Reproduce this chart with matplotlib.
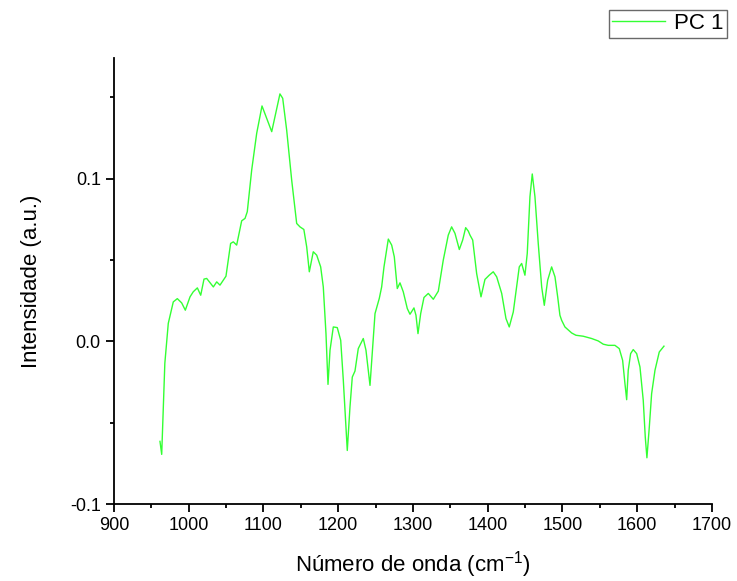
import matplotlib
matplotlib.use("Agg")
import matplotlib.pyplot as plt
from matplotlib.ticker import MultipleLocator, FormatStrFormatter

plt.rcParams['font.family'] = ['Liberation Sans', 'DejaVu Sans']
plt.rcParams['mathtext.fontset'] = 'custom'
plt.rcParams['mathtext.rm'] = 'Liberation Sans'
plt.rcParams['mathtext.it'] = 'Liberation Sans'
plt.rcParams['axes.unicode_minus'] = False

# numero de onda (cm-1) e intensidade da PC 1
numero_onda = [961.5, 963.8, 968.0, 972.6, 979.3, 984.7, 990.5, 995.4, 1001.7, 1006.0,
               1011.5, 1016.0, 1020.4, 1024.0, 1032.9, 1037.4, 1041.8, 1049.8, 1056.0, 1059.6,
               1064.1, 1070.8, 1075.3, 1078.3, 1084.2, 1090.9, 1098.0, 1104.3, 1111.0, 1115.4,
               1122.0, 1125.7, 1131.0, 1137.7, 1144.4, 1148.8, 1154.0, 1157.8, 1161.3, 1166.6,
               1171.2, 1176.5, 1180.0, 1183.6, 1186.3, 1189.0, 1193.4, 1198.7, 1203.3, 1206.8,
               1212.1, 1215.7, 1218.8, 1222.4, 1226.8, 1233.5, 1237.1, 1242.5, 1246.1, 1249.2,
               1254.9, 1258.1, 1261.2, 1267.0, 1271.5, 1275.0, 1279.0, 1282.6, 1287.0, 1292.4,
               1296.0, 1301.3, 1304.0, 1306.7, 1310.3, 1314.7, 1320.5, 1327.2, 1333.9, 1340.5,
               1347.2, 1351.7, 1356.2, 1362.0, 1366.5, 1370.5, 1374.0, 1376.3, 1379.9, 1385.2,
               1391.0, 1396.3, 1402.0, 1407.4, 1412.0, 1418.7, 1424.4, 1428.8, 1434.2, 1438.7,
               1442.2, 1445.4, 1449.8, 1452.9, 1456.5, 1459.6, 1463.2, 1467.6, 1472.2, 1475.7,
               1480.2, 1485.5, 1490.0, 1493.6, 1496.6, 1498.9, 1503.3, 1512.3, 1518.0, 1527.8,
               1539.0, 1547.9, 1554.6, 1561.3, 1570.2, 1576.0, 1580.5, 1583.6, 1585.9, 1588.0,
               1591.2, 1594.7, 1599.3, 1603.7, 1608.1, 1610.8, 1613.0, 1616.2, 1619.3, 1623.8,
               1629.5, 1635.8]
pc1 = [-0.0615, -0.0695, -0.0135, 0.0110, 0.0242, 0.0262, 0.0236, 0.0191, 0.0273, 0.0304,
       0.0328, 0.0283, 0.0382, 0.0386, 0.0334, 0.0365, 0.0345, 0.0400, 0.0601, 0.0611,
       0.0591, 0.0740, 0.0755, 0.0796, 0.1052, 0.1278, 0.1446, 0.1370, 0.1288, 0.1380,
       0.1520, 0.1493, 0.1298, 0.0991, 0.0724, 0.0703, 0.0687, 0.0580, 0.0427, 0.0550,
       0.0529, 0.0457, 0.0334, 0.0047, -0.0265, -0.0055, 0.0088, 0.0084, 0.0006, -0.0240,
       -0.0671, -0.0404, -0.0220, -0.0183, -0.0045, 0.0017, -0.0055, -0.0271, -0.0035, 0.0170,
       0.0263, 0.0334, 0.0457, 0.0628, 0.0591, 0.0519, 0.0324, 0.0359, 0.0304, 0.0201,
       0.0166, 0.0205, 0.0160, 0.0047, 0.0170, 0.0269, 0.0294, 0.0258, 0.0308, 0.0498,
       0.0652, 0.0703, 0.0663, 0.0564, 0.0622, 0.0698, 0.0677, 0.0652, 0.0622, 0.0416,
       0.0273, 0.0380, 0.0406, 0.0427, 0.0396, 0.0294, 0.0140, 0.0088, 0.0180, 0.0334,
       0.0457, 0.0478, 0.0406, 0.0540, 0.0888, 0.1028, 0.0888, 0.0601, 0.0334, 0.0221,
       0.0375, 0.0457, 0.0396, 0.0273, 0.0160, 0.0129, 0.0088, 0.0051, 0.0037, 0.0031,
       0.0017, 0.0002, -0.0018, -0.0025, -0.0025, -0.0045, -0.0117, -0.0260, -0.0359, -0.0178,
       -0.0076, -0.0051, -0.0076, -0.0158, -0.0363, -0.0589, -0.0716, -0.0527, -0.0322, -0.0178,
       -0.0066, -0.0030]

fig = plt.figure(figsize=(7.37, 5.81), dpi=100)
ax = fig.add_axes([0.1547, 0.1325, 0.8113, 0.7675])

ax.plot(numero_onda, pc1, color='#33ff33', linewidth=1.0, label='PC 1')

ax.set_xlim(900, 1700)
ax.set_ylim(-0.1, 0.174)
ax.xaxis.set_major_locator(MultipleLocator(100))
ax.xaxis.set_minor_locator(MultipleLocator(50))
ax.yaxis.set_major_locator(MultipleLocator(0.1))
ax.yaxis.set_minor_locator(MultipleLocator(0.05))
ax.yaxis.set_major_formatter(FormatStrFormatter('%.1f'))

ax.spines['top'].set_visible(False)
ax.spines['right'].set_visible(False)
ax.spines['left'].set_linewidth(1.3)
ax.spines['bottom'].set_linewidth(1.3)
ax.tick_params(which='major', direction='out', length=6, width=1.3, labelsize=13)
ax.tick_params(which='minor', direction='out', length=3, width=1.3)

ax.set_xlabel('Número de onda (cm$^{-1}$)', fontsize=16, labelpad=11)
ax.set_ylabel('Intensidade (a.u.)', fontsize=16, labelpad=20)

leg = fig.legend(loc='upper right', bbox_to_anchor=(0.9864, 0.983), fontsize=16,
                 frameon=True, fancybox=False, edgecolor='#444444',
                 handlelength=2.4, borderpad=0.15, handletextpad=0.4,
                 borderaxespad=0)
leg.get_frame().set_linewidth(1.0)

fig.savefig('out.png', dpi=100)
